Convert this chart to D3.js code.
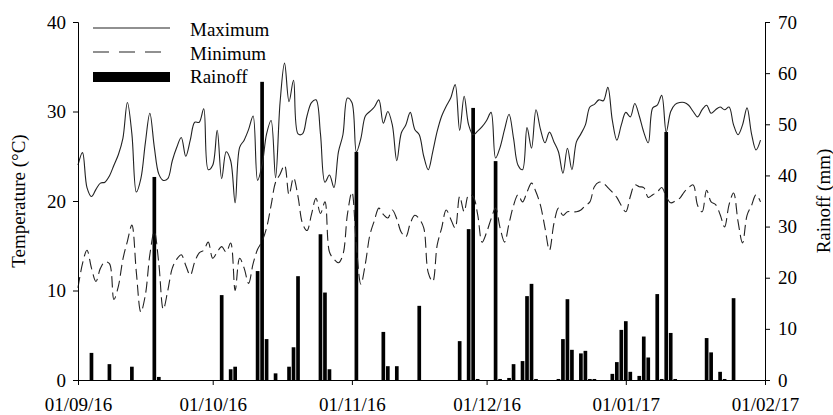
<!DOCTYPE html>
<html>
<head>
<meta charset="utf-8">
<script src="https://cdn.jsdelivr.net/npm/d3@7.9.0/dist/d3.min.js"></script>
<style>
  html, body { margin: 0; padding: 0; background: #fff; }
  svg text { font-family: "Liberation Serif", "DejaVu Serif", "Times New Roman", serif; fill: #000; }
</style>
</head>
<body>
<svg id="chart" width="833" height="415"></svg>
<script>
// daily series, 1 Sep 2016 .. 31 Jan 2017 (index = day since start)
const startDate = new Date(2016, 8, 1);
const endDate = new Date(2017, 1, 1);

const maxTemp = [
  24.0, 25.4, 21.5, 20.5, 21.3, 22.0, 22.1, 22.8, 24.0, 25.2,
  27.0, 31.0, 27.5, 21.0, 22.5, 26.5, 29.8, 26.0, 23.0, 22.3,
  22.5, 24.5, 26.0, 27.1, 25.0, 26.8, 28.8, 28.8, 30.3, 23.5,
  24.0, 27.9, 22.5, 25.5, 24.5, 19.8, 26.0, 26.8, 28.0, 29.5,
  22.3, 24.0, 27.5, 29.0, 22.6, 31.0, 35.4, 31.1, 33.5, 27.5,
  27.5, 29.5, 31.0, 31.3, 27.5, 22.1, 22.9, 21.5, 25.5, 27.4,
  31.5, 31.0, 25.5, 27.0, 29.5, 30.0, 30.5, 31.3, 28.7, 30.0,
  28.5, 24.5, 27.6, 28.5, 29.9, 28.0, 27.4, 25.0, 23.5, 25.5,
  27.8, 29.5, 30.6, 31.5, 33.0, 27.9, 31.7, 28.5, 27.4, 27.8,
  28.3, 29.0, 29.9, 24.8, 26.0, 28.0, 29.7, 27.0, 24.0, 23.5,
  28.2, 25.9, 30.2, 28.0, 26.5, 27.7, 26.6, 25.5, 23.1, 25.9,
  23.5, 26.6, 27.5, 28.5, 30.5, 30.8, 31.3, 31.2, 32.7, 29.0,
  26.8, 28.5, 29.9, 29.4, 30.9, 29.5, 27.7, 26.5, 30.4, 30.7,
  31.8, 27.7, 30.0, 30.8, 31.0, 31.0, 30.7, 30.0, 29.4, 30.2,
  30.7, 29.8, 30.2, 30.5, 30.2, 30.5, 28.5, 27.4, 28.5, 30.4,
  27.5, 25.7, 26.8
];

const minTemp = [
  10.3, 13.0, 14.5, 12.5, 11.0, 12.5, 13.2, 13.0, 9.0, 10.5,
  13.5, 15.5, 17.3, 12.0, 7.6, 9.5, 14.0, 16.6, 13.0, 7.9,
  10.0, 12.5, 13.5, 14.0, 12.8, 11.7, 13.2, 14.2, 14.5, 15.4,
  13.6, 14.3, 14.9, 14.3, 15.3, 10.0, 13.6, 12.5, 10.8, 13.0,
  14.6, 15.5, 17.0, 19.5, 22.1, 23.0, 24.0, 20.7, 22.6, 20.5,
  17.5, 16.7, 18.5, 20.3, 18.6, 19.9, 14.3, 13.5, 13.1, 14.0,
  18.5, 21.0, 15.0, 10.7, 13.0, 16.2, 17.8, 19.2, 18.5, 18.1,
  19.0, 18.0, 16.5, 16.0, 17.5, 18.4, 18.0, 17.0, 12.0, 11.0,
  15.1, 17.0, 19.0, 18.0, 17.0, 20.5, 18.8, 20.7, 20.5, 18.5,
  15.4, 16.5, 18.0, 19.2, 17.0, 15.4, 17.5, 19.5, 20.7, 19.9,
  21.0, 22.0, 21.0, 19.5, 17.0, 14.5, 17.5, 19.2, 18.4, 18.8,
  18.8, 18.8, 19.0, 19.5, 19.9, 21.6, 22.1, 22.0, 21.5, 21.0,
  20.4, 19.5, 18.8, 20.5, 21.8, 21.6, 21.5, 20.4, 20.7, 21.0,
  21.5, 20.5, 19.8, 20.0, 20.3, 21.0, 21.5, 21.8, 19.5, 18.8,
  21.2, 19.9, 19.6, 18.5, 17.1, 19.6, 20.9, 17.7, 15.3, 18.4,
  19.5, 20.7, 19.9
];

// rain days (day since start) and amounts (mm)
const rainDay = [
  3, 7, 12, 17, 18, 32, 34, 35, 40, 41, 42, 44, 47, 48, 49, 54, 55, 56,
  62, 68, 69, 71, 76, 85, 87, 88, 89, 93, 94, 96, 97, 99, 100, 101, 102,
  107, 108, 109, 110, 112, 113, 114, 115, 119, 120, 121, 122, 123, 125,
  126, 127, 129, 130, 131, 132, 133, 140, 141, 143, 144, 146
];
const rainMm = [
  5.3, 3.1, 2.6, 39.7, 0.6, 16.6, 2.1, 2.6, 21.3, 58.3, 8.0, 1.3, 2.6, 6.4, 20.3, 28.5, 17.1, 2.1,
  44.6, 9.4, 2.7, 2.7, 14.5, 7.6, 29.5, 53.2, 0.2, 42.8, 0.2, 0.4, 3.1, 3.7, 16.4, 18.8, 0.2,
  0.2, 8.0, 15.8, 5.9, 5.2, 5.7, 0.2, 0.2, 1.2, 3.5, 9.8, 11.5, 1.6, 0.8,
  8.5, 4.4, 16.8, 0.2, 48.5, 9.2, 0.2, 8.2, 5.4, 1.6, 0.2, 16.0
];

const tempTicks = [0, 10, 20, 30, 40];
const rainTicks = [0, 10, 20, 30, 40, 50, 60, 70];
const monthTicks = [
  new Date(2016, 8, 1), new Date(2016, 9, 1), new Date(2016, 10, 1),
  new Date(2016, 11, 1), new Date(2017, 0, 1), new Date(2017, 1, 1)
];
const legendLabels = ['Maximum', 'Minimum', 'Rainoff'];

const dayToDate = d => d3.timeDay.offset(startDate, d);
const FONT = '"Liberation Serif", "DejaVu Serif", serif';

const svg = d3.select('#chart');
const m = { left: 78, right: 765, top: 22, bottom: 380 };

const x = d3.scaleTime().domain([startDate, endDate]).range([m.left, m.right]);
const yT = d3.scaleLinear().domain([0, 40]).range([m.bottom, m.top]);
const yR = d3.scaleLinear().domain([0, 70]).range([m.bottom, m.top]);

const dayW = x(dayToDate(1)) - x(dayToDate(0));
const barW = dayW * 0.82;

// rain bars
svg.append('g')
  .selectAll('rect')
  .data(rainDay.map((d, i) => ({ date: dayToDate(d), mm: rainMm[i] })))
  .join('rect')
  .attr('x', d => x(d.date) - barW / 2)
  .attr('y', d => yR(d.mm))
  .attr('width', barW)
  .attr('height', d => yR(0) - yR(d.mm))
  .attr('fill', '#000');

const line = d3.line()
  .x(d => x(d.date))
  .y(d => yT(d.v))
  .curve(d3.curveCatmullRom.alpha(0.5));

svg.append('path')
  .datum(maxTemp.map((v, i) => ({ date: dayToDate(i), v })))
  .attr('d', line)
  .attr('fill', 'none')
  .attr('stroke', '#222')
  .attr('stroke-width', 1.1);

svg.append('path')
  .datum(minTemp.map((v, i) => ({ date: dayToDate(i), v })))
  .attr('d', line)
  .attr('fill', 'none')
  .attr('stroke', '#222')
  .attr('stroke-width', 1.1)
  .attr('stroke-dasharray', '11,5');

// axes
const fmt = d3.timeFormat('%d/%m/%y');

const xAxis = svg.append('g')
  .attr('transform', `translate(0,${m.bottom})`)
  .call(d3.axisBottom(x).tickValues(monthTicks).tickFormat(fmt).tickSizeOuter(0).tickSize(5));

const yAxisL = svg.append('g')
  .attr('transform', `translate(${m.left},0)`)
  .call(d3.axisLeft(yT).tickValues(tempTicks).tickSizeOuter(0).tickSize(5));

const yAxisR = svg.append('g')
  .attr('transform', `translate(${m.right},0)`)
  .call(d3.axisRight(yR).tickValues(rainTicks).tickSizeOuter(0).tickSize(5));

[xAxis, yAxisL, yAxisR].forEach(a => {
  a.attr('font-family', FONT).attr('font-size', 19);
  a.select('.domain').attr('stroke', '#000');
  a.selectAll('.tick line').attr('stroke', '#000');
  a.selectAll('.tick text').attr('fill', '#000');
});
xAxis.selectAll('.tick text').attr('y', 31).attr('dy', 0);
yAxisL.selectAll('.tick text').attr('x', -12);
yAxisR.selectAll('.tick text').attr('x', 13);

// axis titles
const midY = (m.top + m.bottom) / 2;
svg.append('text')
  .attr('transform', `translate(25,${midY}) rotate(-90)`)
  .attr('text-anchor', 'middle')
  .style('font-size', '19px')
  .text('Temperature (°C)');

svg.append('text')
  .attr('transform', `translate(830,${midY}) rotate(-90)`)
  .attr('text-anchor', 'middle')
  .style('font-size', '19px')
  .text('Rainoff (mm)');

// legend
const legend = svg.append('g');
const lgX0 = 93, lgX1 = 170;
legend.append('line')
  .attr('x1', lgX0).attr('x2', lgX1).attr('y1', 28).attr('y2', 28)
  .attr('stroke', '#222').attr('stroke-width', 1.1);
legend.append('line')
  .attr('x1', lgX0).attr('x2', lgX1).attr('y1', 52).attr('y2', 52)
  .attr('stroke', '#222').attr('stroke-width', 1.1)
  .attr('stroke-dasharray', '16,10');
legend.append('rect')
  .attr('x', lgX0).attr('y', 72).attr('width', lgX1 - lgX0).attr('height', 10)
  .attr('fill', '#000');

legend.selectAll('text.lab')
  .data(legendLabels)
  .join('text')
  .attr('class', 'lab')
  .attr('x', 190)
  .attr('y', (d, i) => 36 + i * 23.5)
  .style('font-size', '19px')
  .text(d => d);
</script>
</body>
</html>
